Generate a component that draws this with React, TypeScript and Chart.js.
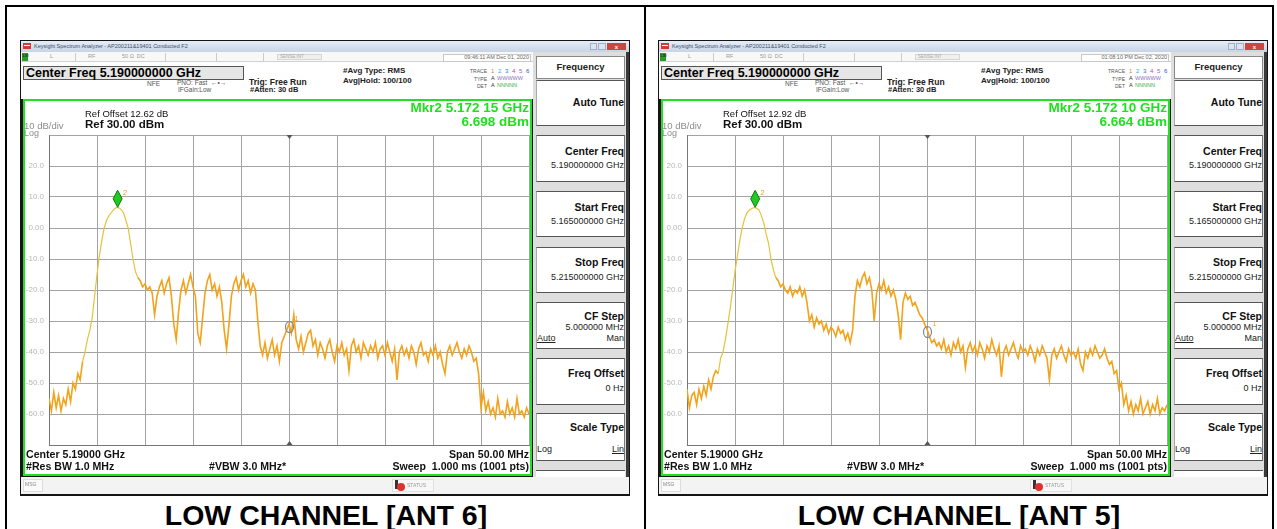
import React, { useEffect, useRef } from 'react';
import { Chart, registerables } from 'chart.js';

Chart.register(...registerables);

const FONT = '"Liberation Sans", Arial, Helvetica, sans-serif';

// ---- sweep setup ----
const START_MHZ = 5165;
const STOP_MHZ = 5215;
const X_STEP_MHZ = 5;
const REF_DBM = 30;
const BOTTOM_DBM = -70;
const DB_PER_DIV = 10;
const MKR1_MHZ = 5190;

// ---- traces (dBm), 201 points from 5.165 GHz to 5.215 GHz ----
const ANT6_TRACE_DBM = [
  -55, -59, -53, -58, -54, -59, -55, -57, -52, -56,
  -50, -52, -47, -49, -43, -40, -36, -33, -29, -22,
  -15, -9, -4, 0, 2.5, 4, 5, 6, 6.6, 6.6,
  6, 5, 2.5, 0, -5, -10, -14, -16, -17, -19,
  -18, -20, -19, -21, -28, -22, -19, -17, -21, -18,
  -16, -22, -31, -36, -27, -20, -17, -21, -18, -15,
  -19, -22, -34, -37, -29, -21, -17, -15, -20, -18,
  -22, -19, -24, -33, -39, -31, -22, -18, -16, -20,
  -17, -15, -19, -17, -21, -18, -20, -30, -38, -41,
  -37, -42, -39, -36, -41, -38, -43, -37, -35, -33,
  -31, -34, -28, -36, -39, -35, -40, -37, -34, -33,
  -38, -36, -41, -37, -39, -42, -38, -36, -40, -43,
  -38, -40, -37, -41, -39, -46, -38, -36, -40, -38,
  -42, -37, -39, -41, -38, -40, -37, -42, -39, -38,
  -41, -37, -40, -43, -39, -49, -40, -38, -41, -39,
  -42, -38, -40, -44, -39, -37, -41, -40, -43, -39,
  -41, -38, -42, -40, -44, -47, -40, -38, -41, -39,
  -37, -40, -42, -39, -41, -38, -40, -43, -42, -47,
  -58, -53, -59, -56, -60, -58, -61, -55, -60, -59,
  -61, -56, -60, -58, -61, -55, -60, -59, -61, -58, -60,
];

const ANT5_TRACE_DBM = [
  -52, -58, -54, -53, -57, -52, -55, -51, -54, -49,
  -52, -48, -46, -47, -42, -40, -36, -31, -26, -20,
  -14, -9, -4, 0, 3, 5, 5.8, 6.3, 6.6, 6.4,
  5.8, 4, 1.6, -2, -5, -10, -13.5, -16, -17, -19,
  -18, -20, -21, -19, -22, -20, -21, -19, -22, -20,
  -24, -30, -28, -32, -29, -31, -30, -33, -31, -34,
  -32, -33, -35, -32, -34, -33, -36, -34, -37, -33,
  -22, -17, -19, -16, -14.5, -18, -16, -20, -30, -21,
  -18, -20, -17, -21, -19, -22, -20, -23, -28, -36,
  -24, -21, -23, -22, -25, -24, -26, -28, -29, -31,
  -32.6, -35, -37, -36, -38, -37, -39, -36, -40, -38,
  -41, -37, -39, -36, -40, -38, -45, -39, -37, -40,
  -38, -41, -37, -39, -42, -38, -40, -36, -39, -41,
  -38, -48, -40, -38, -41, -39, -37, -40, -42, -38,
  -40, -39, -41, -38, -40, -43, -39, -41, -38, -40,
  -42, -49, -41, -39, -42, -40, -38, -41, -43, -39,
  -41, -40, -42, -39, -44, -46, -40, -42, -39, -41,
  -38, -40, -42, -41, -39, -42, -44, -43, -47, -46,
  -52, -50, -57, -54, -59, -56, -60, -57, -59, -55,
  -60, -58, -56, -60, -57, -59, -55, -60, -58, -59, -57,
];

// marker 2 (peak): [MHz, dBm]
const ANT6_MKR2 = [5172.15, 6.698];
const ANT5_MKR2 = [5172.10, 6.664];
const ANT6_MKR2_TEXT = ['Mkr2 5.172 15 GHz', '6.698 dBm'];
const ANT5_MKR2_TEXT = ['Mkr2 5.172 10 GHz', '6.664 dBm'];
const ANT6_REF_OFFSET = 'Ref Offset 12.62 dB';
const ANT5_REF_OFFSET = 'Ref Offset 12.92 dB';
const ANT6_STAMP = '09:46:11 AM Dec 01, 2020';
const ANT5_STAMP = '01:08:10 PM Dec 02, 2020';
const CAPTIONS = ['LOW CHANNEL [ANT 6]', 'LOW CHANNEL [ANT 5]'];

const YELLOW = '#e4c33a';
const ORANGE = '#f2a31b';
const GRID = '#a3a3a3';

type TP = { x: number; y: number; s: number; t: string; b?: boolean; c?: string; a?: 'l' | 'r' | 'c'; u?: boolean };
const Txt = ({ x, y, s, t, b, c, a = 'l', u }: TP) => {
  const st: any = {
    position: 'absolute', top: y - s * 0.5, fontSize: s, lineHeight: s + 'px',
    fontWeight: b ? 'bold' : 'normal', color: c || '#000', whiteSpace: 'pre',
    fontFamily: FONT, textDecoration: u ? 'underline' : 'none',
  };
  if (a === 'l') st.left = x;
  else if (a === 'r') { st.left = x - 500; st.width = 500; st.textAlign = 'right'; }
  else { st.left = x - 500; st.width = 1000; st.textAlign = 'center'; }
  return <div style={st}>{t}</div>;
};

const R = ({ x, y, w, h, bg, st }: { x: number; y: number; w: number; h: number; bg?: string; st?: any }) => (
  <div style={{ position: 'absolute', left: x, top: y, width: w, height: h, background: bg, boxSizing: 'border-box', ...(st || {}) }} />
);

function SpectrumChart({ values, mkr2, yellowFrom, yellowTo }: { values: number[]; mkr2: number[]; yellowFrom: number; yellowTo: number }) {
  const ref = useRef<HTMLCanvasElement>(null);
  useEffect(() => {
    const step = (STOP_MHZ - START_MHZ) / (values.length - 1);
    const pts = values.map((v, i) => ({ x: START_MHZ + i * step, y: v }));
    const m1Val = values[Math.round((MKR1_MHZ - START_MHZ) / step)];
    const markerPlugin = {
      id: 'markers',
      afterDatasetsDraw(chart: any) {
        const { ctx, scales, chartArea } = chart;
        const xs = scales.x, ys = scales.y;
        ctx.save();
        const cx = Math.round(xs.getPixelForValue(MKR1_MHZ)) + 0.5;
        ctx.fillStyle = '#555';
        ctx.beginPath();
        ctx.moveTo(cx - 3, chartArea.top); ctx.lineTo(cx + 3, chartArea.top); ctx.lineTo(cx, chartArea.top + 4);
        ctx.closePath(); ctx.fill();
        ctx.beginPath();
        ctx.moveTo(cx - 3, chartArea.bottom); ctx.lineTo(cx + 3, chartArea.bottom); ctx.lineTo(cx, chartArea.bottom - 4);
        ctx.closePath(); ctx.fill();
        // marker 1
        const m1y = ys.getPixelForValue(m1Val) + 3;
        ctx.strokeStyle = '#80869a';
        ctx.lineWidth = 1.2;
        ctx.beginPath();
        ctx.ellipse(cx, m1y, 4, 5.5, 0, 0, Math.PI * 2);
        ctx.stroke();
        ctx.fillStyle = ORANGE;
        ctx.font = `7px ${FONT}`;
        ctx.fillText('1', cx + 5, m1y - 6);
        // marker 2 diamond
        const px = xs.getPixelForValue(mkr2[0]);
        const py = ys.getPixelForValue(mkr2[1]);
        ctx.fillStyle = '#22c922';
        ctx.strokeStyle = '#0c7a0c';
        ctx.lineWidth = 1;
        ctx.beginPath();
        ctx.moveTo(px, py); ctx.lineTo(px + 4.5, py - 8.5); ctx.lineTo(px, py - 17); ctx.lineTo(px - 4.5, py - 8.5);
        ctx.closePath(); ctx.fill(); ctx.stroke();
        ctx.fillStyle = ORANGE;
        ctx.font = `8px ${FONT}`;
        ctx.fillText('2', px + 5, py - 12);
        ctx.restore();
      },
    };
    const chart = new Chart(ref.current as HTMLCanvasElement, {
      type: 'line',
      data: {
        datasets: [{
          data: pts as any,
          borderColor: ORANGE,
          borderWidth: 1.5,
          pointRadius: 0,
          tension: 0,
          segment: {
            borderColor: (c: any) => (c.p0DataIndex >= yellowFrom && c.p1DataIndex <= yellowTo ? YELLOW : ORANGE),
            borderWidth: (c: any) => (c.p0DataIndex >= yellowFrom && c.p1DataIndex <= yellowTo ? 1.2 : 1.6),
          },
        }],
      },
      options: {
        animation: false,
        responsive: false,
        devicePixelRatio: 1,
        events: [],
        layout: { padding: { top: 34, bottom: 30, left: 0, right: 2 } },
        plugins: { legend: { display: false }, tooltip: { enabled: false } },
        scales: {
          x: {
            type: 'linear', min: START_MHZ, max: STOP_MHZ,
            ticks: { display: false, stepSize: X_STEP_MHZ },
            grid: { color: GRID, drawTicks: false },
            border: { display: true, color: '#777' },
            afterFit: (s: any) => { s.height = 0; },
          },
          y: {
            type: 'linear', min: BOTTOM_DBM, max: REF_DBM,
            ticks: {
              stepSize: DB_PER_DIV, color: '#b8b8b8', padding: 5,
              font: { size: 8, family: FONT },
              callback: (v: any) => (v === REF_DBM || v === BOTTOM_DBM ? '' : v === 0 ? '0.00' : Number(v).toFixed(1)),
            },
            grid: { color: GRID, drawTicks: false },
            border: { display: true, color: '#777' },
            afterFit: (s: any) => { s.width = 25; },
          },
        },
      } as any,
      plugins: [markerPlugin],
    });
    return () => chart.destroy();
  }, [values, mkr2, yellowFrom, yellowTo]);
  return <canvas ref={ref} width={507} height={374} style={{ position: 'absolute', left: 24, top: 101, width: 507, height: 374 }} />;
}

const MENU = [
  { top: 80, h: 46, title: 'Auto Tune', ty: 102 },
  { top: 135, h: 47, title: 'Center Freq', ty: 151, value: '5.190000000 GHz', vy: 165 },
  { top: 191, h: 46, title: 'Start Freq', ty: 207, value: '5.165000000 GHz', vy: 221 },
  { top: 247, h: 46, title: 'Stop Freq', ty: 262, value: '5.215000000 GHz', vy: 277 },
  { top: 302, h: 47, title: 'CF Step', ty: 316, value: '5.000000 MHz', vy: 327, l: 'Auto', r: 'Man', ly: 338, lu: true },
  { top: 358, h: 47, title: 'Freq Offset', ty: 373, value: '0 Hz', vy: 388 },
  { top: 413, h: 48, title: 'Scale Type', ty: 427, l: 'Log', r: 'Lin', ly: 449, ru: true },
];

function Panel({ ox, values, mkr2, mkrText, refOff, stamp, yf, yt }: any) {
  return (
    <div style={{ position: 'absolute', left: ox, top: 0, width: 640, height: 529 }}>
      {/* window frame */}
      <R x={20} y={40} w={610} h={456} bg="#151515" />
      <div style={{ position: 'absolute', left: 21, top: 41, width: 608, height: 11, background: 'linear-gradient(#e6eef7,#c6d4e6)' }} />
      <R x={23} y={43} w={8} h={6} bg="#d03a3a" />
      <R x={24} y={45} w={6} h={1} bg="#ffffff" />
      <Txt x={34} y={46.5} s={5.5} c="#3d4d6a" t="Keysight Spectrum Analyzer - AP200211&19401 Conducted F2" />
      <R x={590} y={43} w={7} h={7} bg="#dbe4ef" st={{ border: '1px solid #9fb0c8' }} />
      <R x={598} y={43} w={8} h={7} bg="#dbe4ef" st={{ border: '1px solid #9fb0c8' }} />
      <R x={607} y={43} w={19} h={7} bg="#c9483a" />
      <Txt x={616.5} y={46.5} s={6} c="#fff" b a="c" t="x" />
      {/* toolbar */}
      <R x={21} y={52} w={608} h={10} bg="#f8f8f8" st={{ borderBottom: '1px solid #d0d0d0' }} />
      <R x={22} y={53} w={6} h={8} bg="#2a9a2a" />
      <Txt x={22.5} y={56} s={4} c="#000" t="LXI" />
      <Txt x={50} y={57} s={5.5} c="#999" t="L" />
      <Txt x={88} y={57} s={5.5} c="#999" t="RF" />
      <Txt x={122} y={57} s={5.5} c="#999" t="50 Ω  DC" />
      <R x={75} y={53} w={1} h={8} bg="#ccc" />
      <R x={165} y={53} w={1} h={8} bg="#ccc" />
      <R x={216} y={53} w={1} h={8} bg="#ccc" />
      <R x={263} y={53} w={1} h={8} bg="#ccc" />
      <R x={277} y={54} w={45} h={6} bg="#f0f0f0" st={{ border: '1px solid #d6d6d6' }} />
      <Txt x={280} y={57} s={4.5} c="#aaa" t="SENSE:INT" />
      <R x={443} y={54} w={88} h={8} bg="#fff" st={{ border: '1px solid #c8c8c8' }} />
      <Txt x={529} y={58} s={5.5} c="#666" a="r" t={stamp} />
      {/* header */}
      <R x={21} y={62} w={512} h={37} bg="#ffffff" />
      <R x={23} y={66} w={221} h={14} bg="#e6e6e6" st={{ border: '1px solid #555' }} />
      <Txt x={26} y={73} s={12.5} b t="Center Freq 5.190000000 GHz" />
      <Txt x={147} y={84} s={6.5} c="#555" t="NFE" />
      <Txt x={177} y={83.5} s={6.5} c="#555" t="PNO: Fast  ←•→" />
      <Txt x={178} y={90} s={6.5} c="#555" t="IFGain:Low" />
      <Txt x={249} y={82} s={8.5} b c="#222" t="Trig: Free Run" />
      <Txt x={250} y={90} s={7.5} b c="#222" t="#Atten: 30 dB" />
      <Txt x={343} y={71} s={8} b c="#222" t="#Avg Type: RMS" />
      <Txt x={343} y={81} s={8} b c="#222" t="Avg|Hold: 100/100" />
      <Txt x={487} y={71} s={5} c="#555" a="r" t="TRACE" />
      <Txt x={491} y={71} s={6} c="#e08020" t="1" />
      <Txt x={498} y={71} s={6} c="#20b8d8" t="2" />
      <Txt x={505} y={71} s={6} c="#3070e0" t="3" />
      <Txt x={512} y={71} s={6} c="#d040c0" t="4" />
      <Txt x={519} y={71} s={6} c="#9060e0" t="5" />
      <Txt x={526} y={71} s={6} c="#3050c0" t="6" />
      <Txt x={487} y={79} s={5} c="#555" a="r" t="TYPE" />
      <Txt x={491} y={79} s={5.5} c="#333" t="A" />
      <Txt x={497} y={79} s={5.5} c="#9070c0" t="WWWWW" />
      <Txt x={487} y={86} s={5} c="#555" a="r" t="DET" />
      <Txt x={491} y={86} s={5.5} c="#333" t="A" />
      <Txt x={497} y={86} s={5.5} c="#40b040" t="NNNNN" />
      {/* menu panel */}
      <R x={533} y={52} w={95} h={425} bg="#dedede" />
      <R x={626} y={52} w={3} h={425} bg="#3a3a3a" />
      <R x={536} y={56} w={89} h={23} bg="#fff" st={{ border: '1px solid #888' }} />
      <Txt x={580.5} y={67} s={9.5} b c="#222" a="c" t="Frequency" />
      {MENU.map((m: any, k: number) => (
        <React.Fragment key={k}>
          <R x={536} y={m.top} w={89} h={m.h} bg="#fff" st={{ borderTop: '1px solid #555', borderBottom: '1px solid #555', borderLeft: '1px solid #aaa', borderRight: '1px solid #777' }} />
          <Txt x={624} y={m.ty} s={10.5} b c="#111" a="r" t={m.title} />
          {m.value ? <Txt x={624} y={m.vy} s={9} c="#222" a="r" t={m.value} /> : null}
          {m.l ? <Txt x={537} y={m.ly} s={9} c="#222" u={!!m.lu} t={m.l} /> : null}
          {m.r ? <Txt x={624} y={m.ly} s={9} c="#222" a="r" u={!!m.ru} t={m.r} /> : null}
        </React.Fragment>
      ))}
      <R x={536} y={470} w={89} h={7} bg="#fff" st={{ borderTop: '1px solid #555' }} />
      {/* plot box */}
      <div style={{ position: 'absolute', left: 23, top: 99, width: 509, height: 377, boxSizing: 'border-box', border: '2px solid #22e022', background: '#fff' }} />
      <SpectrumChart values={values} mkr2={mkr2} yellowFrom={yf} yellowTo={yt} />
      <Txt x={85} y={114} s={9.5} c="#111" t={refOff} />
      <Txt x={85} y={125} s={11.5} b c="#111" t="Ref 30.00 dBm" />
      <Txt x={24} y={126} s={9.5} c="#8c8c8c" t="10 dB/div" />
      <Txt x={24} y={133} s={9} c="#8c8c8c" t="Log" />
      <Txt x={529} y={108} s={13.5} b c="#1fe01f" a="r" t={mkrText[0]} />
      <Txt x={529} y={122} s={13.5} b c="#1fe01f" a="r" t={mkrText[1]} />
      <Txt x={26} y={454} s={10.6} b c="#111" t="Center 5.19000 GHz" />
      <Txt x={26} y={466} s={10.6} b c="#111" t="#Res BW 1.0 MHz" />
      <Txt x={209} y={466} s={10.6} b c="#111" t="#VBW 3.0 MHz*" />
      <Txt x={529} y={454} s={10.6} b c="#111" a="r" t="Span 50.00 MHz" />
      <Txt x={529} y={466} s={10.6} b c="#111" a="r" t="Sweep  1.000 ms (1001 pts)" />
      {/* status bar */}
      <R x={21} y={477} w={608} h={17} bg="#f3f3f3" />
      <R x={23} y={479} w={20} h={13} bg="#fafafa" st={{ border: '1px solid #ddd' }} />
      <Txt x={25} y={484} s={5} c="#888" t="MSG" />
      <R x={392} y={479} w={42} h={13} bg="#f7f7f7" st={{ border: '1px solid #e0e0e0' }} />
      <R x={395} y={480} w={3} h={9} bg="#333" />
      <div style={{ position: 'absolute', left: 397, top: 483, width: 8, height: 8, borderRadius: 4, background: '#e03030' }} />
      <Txt x={407} y={485} s={5} c="#999" t="STATUS" />
    </div>
  );
}

export default function App() {
  return (
    <div style={{ position: 'fixed', left: 0, top: 0, width: 1277, height: 529, overflow: 'hidden', background: '#fff' }}>
      <div style={{ position: 'absolute', left: 5, top: 5, width: 1269, height: 600, border: '2px solid #000', boxSizing: 'border-box' }} />
      <div style={{ position: 'absolute', left: 644, top: 5, width: 2, height: 600, background: '#000' }} />
      <Panel ox={0} values={ANT6_TRACE_DBM} mkr2={ANT6_MKR2} mkrText={ANT6_MKR2_TEXT} refOff={ANT6_REF_OFFSET} stamp={ANT6_STAMP} yf={14} yt={37} />
      <Panel ox={638} values={ANT5_TRACE_DBM} mkr2={ANT5_MKR2} mkrText={ANT5_MKR2_TEXT} refOff={ANT5_REF_OFFSET} stamp={ANT5_STAMP} yf={13} yt={37} />
      <Txt x={326} y={515} s={28.5} b c="#000" a="c" t={CAPTIONS[0]} />
      <Txt x={959} y={515} s={28.5} b c="#000" a="c" t={CAPTIONS[1]} />
    </div>
  );
}
